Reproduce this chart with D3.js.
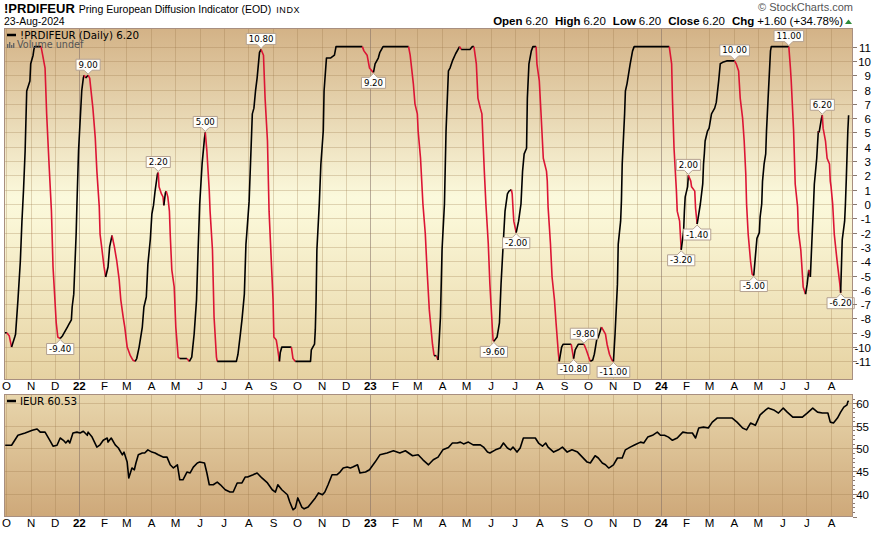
<!DOCTYPE html>
<html><head><meta charset="utf-8">
<script src="https://cdn.jsdelivr.net/npm/d3@7"></script>
<style>body{margin:0;background:#fff;} svg{display:block;}</style>
</head><body><svg id="c" width="887" height="533"></svg>
<script>
// ---------------- DATA ----------------
const indicator = [
["2021-09-29",-9.0],["2021-10-02",-9.0],["2021-10-05",-9.2],["2021-10-08",-10.0],["2021-10-12",-9.3],["2021-10-13",-9.1],["2021-10-16",-6.7],["2021-10-19",-4.0],["2021-10-21",-1.2],["2021-10-23",1.0],["2021-10-25",3.7],["2021-10-27",7.9],["2021-10-31",8.6],["2021-11-01",9.8],["2021-11-04",10.4],["2021-11-05",10.8],["2021-11-06",11],["2021-11-14",11],["2021-11-16",10.4],["2021-11-19",9.5],["2021-11-21",6.3],["2021-11-24",2.8],["2021-11-27",-0.5],["2021-11-29",-4.4],["2021-12-03",-8.3],["2021-12-05",-9.3],["2021-12-08",-9.4],["2021-12-11",-9.2],["2021-12-17",-8.6],["2021-12-19",-8.4],["2021-12-22",-8.1],["2021-12-23",-7.2],["2021-12-25",-6.3],["2021-12-28",-2.1],["2021-12-29",0],["2021-12-31",3.7],
["2022-01-04",7.9],["2022-01-06",8.8],["2022-01-07",9.0],["2022-01-09",8.8],["2022-01-12",9.0],["2022-01-14",8.8],["2022-01-18",6.7],["2022-01-21",4.6],["2022-01-23",2.3],["2022-01-26",-0.2],["2022-01-27",-2.1],["2022-01-29",-3.0],["2022-02-01",-4.4],["2022-02-03",-5.1],["2022-02-06",-4.4],["2022-02-08",-3.0],["2022-02-11",-2.2],["2022-02-14",-3.0],["2022-02-17",-4.0],["2022-02-20",-5.3],["2022-02-22",-6.7],["2022-02-25",-7.9],["2022-02-27",-8.6],["2022-03-02",-10.0],["2022-03-06",-10.6],["2022-03-09",-10.9],["2022-03-12",-11.0],["2022-03-14",-10.8],["2022-03-17",-10.0],["2022-03-21",-8.6],["2022-03-23",-7.2],["2022-03-26",-6.5],["2022-03-28",-4.2],["2022-03-31",-2.5],["2022-04-02",-0.7],["2022-04-04",-0.1],["2022-04-06",0.9],["2022-04-09",2.1],["2022-04-10",2.2],["2022-04-11",1.2],["2022-04-14",0.7],["2022-04-16",0.5],["2022-04-17",-0.1],["2022-04-19",0.8],["2022-04-20",0.9],["2022-04-22",0.5],["2022-04-24",-0.5],["2022-04-25",-2.1],["2022-04-27",-4.6],["2022-04-30",-5.8],["2022-05-02",-8.6],["2022-05-05",-10.7],["2022-05-07",-10.8],["2022-05-16",-10.8],["2022-05-19",-11.0],["2022-05-22",-10.7],["2022-05-25",-9.1],["2022-05-28",-6.7],["2022-05-30",-3.2],["2022-06-01",0],["2022-06-04",2.8],["2022-06-07",4.6],["2022-06-08",5.0],["2022-06-10",3.7],["2022-06-13",0.9],["2022-06-14",-0.5],["2022-06-17",-3.2],["2022-06-19",-7.9],["2022-06-22",-10.7],["2022-06-23",-11],["2022-07-17",-11],["2022-07-19",-10.5],["2022-07-22",-9.1],["2022-07-24",-8.1],["2022-07-27",-6.3],["2022-07-29",-2.8],["2022-07-30",-2.1],["2022-08-02",0.2],["2022-08-06",6.3],["2022-08-08",6.7],["2022-08-10",7.9],["2022-08-12",8.8],["2022-08-15",10.6],["2022-08-17",10.8],["2022-08-20",10.4],["2022-08-22",7.4],["2022-08-25",4.4],["2022-08-27",-0.5],["2022-09-01",-6.7],["2022-09-02",-9.3],["2022-09-05",-9.5],["2022-09-07",-10.2],["2022-09-09",-11],["2022-09-10",-10.4],["2022-09-12",-10],["2022-09-24",-10],["2022-09-26",-10.8],["2022-09-29",-11],["2022-10-18",-11],["2022-10-19",-10.2],["2022-10-23",-9.8],["2022-10-24",-8.8],["2022-10-25",-6.7],["2022-10-26",-3.2],["2022-10-29",0],["2022-10-31",2.8],["2022-11-03",5.1],["2022-11-04",7.9],["2022-11-07",10.2],["2022-11-12",10.2],["2022-11-17",10.4],["2022-11-19",11],["2022-12-22",11],["2022-12-24",10.7],["2022-12-28",10.4],["2022-12-31",9.5],
["2023-01-03",9.3],["2023-01-05",9.2],["2023-01-07",9.8],["2023-01-11",10.2],["2023-01-13",10.6],["2023-01-17",11],["2023-02-18",11],["2023-02-20",10.4],["2023-02-24",8.4],["2023-02-26",7.0],["2023-03-01",6.3],["2023-03-02",5.1],["2023-03-05",3.2],["2023-03-08",0],["2023-03-11",-2.1],["2023-03-13",-4.4],["2023-03-16",-7.4],["2023-03-20",-9.8],["2023-03-22",-10.6],["2023-03-25",-10.6],["2023-03-27",-10.9],["2023-03-30",-7.9],["2023-04-01",-3.2],["2023-04-04",0],["2023-04-06",5.1],["2023-04-09",9.3],["2023-04-11",9.5],["2023-04-14",10.0],["2023-04-18",10.5],["2023-04-23",11],["2023-04-25",10.8],["2023-05-06",10.8],["2023-05-09",11],["2023-05-11",11],["2023-05-14",9.8],["2023-05-16",7.4],["2023-05-19",6.7],["2023-05-21",6.3],["2023-05-24",2.3],["2023-05-26",0],["2023-05-29",-2.8],["2023-05-31",-5.6],["2023-06-03",-8.6],["2023-06-04",-9.5],["2023-06-05",-9.6],["2023-06-09",-9.3],["2023-06-12",-8.3],["2023-06-14",-5.6],["2023-06-17",-2.5],["2023-06-19",-0.5],["2023-06-22",0.7],["2023-06-24",0.9],["2023-06-27",1.0],["2023-06-28",0.7],["2023-06-29",-0.3],["2023-06-30",-1.2],["2023-07-03",-2.0],["2023-07-06",-1.2],["2023-07-09",0],["2023-07-11",2.3],["2023-07-13",3.5],["2023-07-16",3.9],["2023-07-17",7.4],["2023-07-19",9.8],["2023-07-22",10.7],["2023-07-24",11],["2023-07-28",11],["2023-07-29",9.8],["2023-08-01",8.6],["2023-08-03",6.5],["2023-08-06",3.2],["2023-08-10",2.3],["2023-08-11",1.6],["2023-08-12",-0.2],["2023-08-15",-2.8],["2023-08-17",-5.1],["2023-08-20",-6.7],["2023-08-22",-8.3],["2023-08-25",-10.5],["2023-08-26",-11],["2023-08-29",-10],["2023-08-31",-9.8],["2023-09-10",-9.8],["2023-09-13",-10.8],["2023-09-15",-10.2],["2023-09-19",-9.8],["2023-09-26",-9.8],["2023-09-29",-10.2],["2023-10-02",-10.7],["2023-10-04",-11],["2023-10-07",-10.9],["2023-10-09",-10.5],["2023-10-12",-9.5],["2023-10-14",-9.3],["2023-10-18",-8.6],["2023-10-20",-8.8],["2023-10-23",-9.1],["2023-10-25",-9.8],["2023-10-28",-10.5],["2023-10-31",-10.9],["2023-11-02",-11],["2023-11-04",-9.1],["2023-11-07",-5.6],["2023-11-08",-2.8],["2023-11-11",-1.2],["2023-11-12",0.2],["2023-11-13",2.8],["2023-11-16",6.3],["2023-11-17",7.9],["2023-11-19",8.4],["2023-11-21",9.1],["2023-11-23",9.8],["2023-11-26",10.7],["2023-11-28",11],
["2024-01-11",11],["2024-01-14",9.8],["2024-01-15",7.4],["2024-01-17",3.9],["2024-01-20",0.9],["2024-01-21",-0.5],["2024-01-24",-1.2],["2024-01-26",-3.2],["2024-01-29",-1.9],["2024-01-30",-0.5],["2024-01-31",0.5],["2024-02-03",1.2],["2024-02-04",2.0],["2024-02-07",1.6],["2024-02-08",1.2],["2024-02-12",0.9],["2024-02-13",-0.3],["2024-02-15",-1.4],["2024-02-17",-0.7],["2024-02-19",0],["2024-02-22",1.4],["2024-02-23",2.8],["2024-02-24",3.5],["2024-02-25",4.4],["2024-02-28",5.1],["2024-03-01",5.3],["2024-03-04",6.3],["2024-03-08",6.7],["2024-03-10",7.1],["2024-03-13",8.6],["2024-03-15",9.8],["2024-03-18",9.9],["2024-03-23",10],["2024-04-02",10],["2024-04-04",9.8],["2024-04-07",9.3],["2024-04-09",7.4],["2024-04-12",6.0],["2024-04-14",4.4],["2024-04-16",2.1],["2024-04-17",0],["2024-04-19",-2.1],["2024-04-22",-4.0],["2024-04-24",-4.9],["2024-04-26",-5.0],["2024-04-28",-3.7],["2024-04-30",-2.4],["2024-05-03",-2.0],["2024-05-04",-0.9],["2024-05-06",0],["2024-05-07",1.6],["2024-05-09",2.8],["2024-05-11",3.5],["2024-05-12",5.1],["2024-05-14",7.4],["2024-05-17",10.7],["2024-05-18",11],["2024-06-09",11],["2024-06-11",9.5],["2024-06-12",8.6],["2024-06-15",5.1],["2024-06-17",1.4],["2024-06-20",-0.2],["2024-06-21",-1.9],["2024-06-24",-3.2],["2024-06-26",-4.9],["2024-06-27",-5.8],["2024-06-30",-6.3],["2024-07-02",-5.6],["2024-07-04",-4.6],["2024-07-06",-5.1],["2024-07-08",-2.5],["2024-07-10",0],["2024-07-11",1.4],["2024-07-14",3.2],["2024-07-16",5.1],["2024-07-17",5.0],["2024-07-20",6.0],["2024-07-21",6.2],["2024-07-22",5.3],["2024-07-25",4.4],["2024-07-27",3.2],["2024-07-30",2.8],["2024-07-31",1.6],["2024-08-01",1.2],["2024-08-03",0],["2024-08-05",-2.1],["2024-08-08",-3.7],["2024-08-09",-4.2],["2024-08-12",-5.6],["2024-08-13",-6.2],["2024-08-15",-2.5],["2024-08-18",-1.2],["2024-08-19",0],["2024-08-20",1.6],["2024-08-22",5.1],["2024-08-23",6.2]
];

const price = [
["2021-09-30",50.7],["2021-10-08",50.7],["2021-10-12",51.8],["2021-10-16",52.9],["2021-10-25",53.4],["2021-11-03",54.0],["2021-11-09",54.3],["2021-11-13",53.6],["2021-11-19",53.6],["2021-11-25",51.8],["2021-11-29",50.5],["2021-12-04",50.7],["2021-12-08",52.3],["2021-12-12",51.8],["2021-12-15",51.2],["2021-12-18",51.8],["2021-12-20",51.2],["2021-12-24",53.4],["2021-12-29",53.6],
["2022-01-02",53.4],["2022-01-06",53.8],["2022-01-11",52.9],["2022-01-12",53.6],["2022-01-17",52.5],["2022-01-23",50.3],["2022-01-27",50.8],["2022-01-31",51.8],["2022-02-05",52.3],["2022-02-06",51.4],["2022-02-10",52.3],["2022-02-15",50.8],["2022-02-19",50.1],["2022-02-24",48.6],["2022-02-26",49.2],["2022-03-02",47.0],["2022-03-04",43.5],["2022-03-08",45.7],["2022-03-11",45.3],["2022-03-13",46.8],["2022-03-16",48.6],["2022-03-21",49.0],["2022-03-24",49.0],["2022-03-28",49.7],["2022-04-02",49.2],["2022-04-06",49.0],["2022-04-10",48.6],["2022-04-16",48.1],["2022-04-21",48.1],["2022-04-25",46.4],["2022-04-29",45.7],["2022-05-04",46.4],["2022-05-07",43.1],["2022-05-11",43.1],["2022-05-16",44.8],["2022-05-20",44.6],["2022-05-24",45.9],["2022-05-29",46.8],["2022-06-01",47.0],["2022-06-07",46.8],["2022-06-10",44.6],["2022-06-13",42.0],["2022-06-18",42.0],["2022-06-23",42.6],["2022-06-27",42.0],["2022-07-03",40.9],["2022-07-09",40.4],["2022-07-13",40.4],["2022-07-18",42.4],["2022-07-24",42.4],["2022-07-28",43.7],["2022-07-31",43.7],["2022-08-07",44.2],["2022-08-12",44.6],["2022-08-18",43.5],["2022-08-25",42.4],["2022-08-31",40.9],["2022-09-04",40.4],["2022-09-07",42.0],["2022-09-12",40.9],["2022-09-19",39.8],["2022-09-22",38.2],["2022-09-26",36.5],["2022-09-29",36.9],["2022-10-02",39.1],["2022-10-07",37.1],["2022-10-10",36.7],["2022-10-15",37.1],["2022-10-20",38.2],["2022-10-24",39.1],["2022-10-28",40.2],["2022-11-02",39.8],["2022-11-05",40.4],["2022-11-09",42.0],["2022-11-14",44.2],["2022-11-20",44.2],["2022-11-24",44.8],["2022-11-28",45.7],["2022-12-03",45.9],["2022-12-07",45.7],["2022-12-10",45.9],["2022-12-16",46.4],["2022-12-19",44.6],["2022-12-26",44.8],["2022-12-31",45.3],
["2023-01-07",47.0],["2023-01-13",48.6],["2023-01-22",49.0],["2023-01-30",49.5],["2023-02-07",49.0],["2023-02-14",49.5],["2023-02-23",48.4],["2023-03-02",48.6],["2023-03-08",47.5],["2023-03-15",46.4],["2023-03-21",47.5],["2023-03-27",48.1],["2023-04-02",49.7],["2023-04-09",50.2],["2023-04-14",51.2],["2023-04-20",51.2],["2023-04-24",51.4],["2023-04-28",51.0],["2023-05-04",51.4],["2023-05-10",50.8],["2023-05-19",50.8],["2023-05-23",50.3],["2023-05-28",49.2],["2023-05-31",49.0],["2023-06-07",49.7],["2023-06-13",50.1],["2023-06-17",51.2],["2023-06-22",50.1],["2023-06-26",49.7],["2023-06-29",50.3],["2023-07-04",49.2],["2023-07-08",50.1],["2023-07-12",52.3],["2023-07-17",52.3],["2023-07-27",52.3],["2023-07-31",51.2],["2023-08-05",50.5],["2023-08-09",51.2],["2023-08-12",50.3],["2023-08-19",49.2],["2023-08-25",49.7],["2023-08-30",50.3],["2023-09-05",49.2],["2023-09-11",49.7],["2023-09-18",49.2],["2023-09-24",48.1],["2023-09-30",47.0],["2023-10-04",46.8],["2023-10-10",48.4],["2023-10-14",47.9],["2023-10-19",46.8],["2023-10-23",46.4],["2023-10-27",45.7],["2023-10-29",45.9],["2023-11-02",46.4],["2023-11-07",47.9],["2023-11-13",47.9],["2023-11-17",49.7],["2023-11-23",50.3],["2023-11-29",50.8],["2023-12-06",51.4],["2023-12-10",51.2],["2023-12-15",52.5],["2023-12-21",52.9],["2023-12-27",53.6],["2023-12-31",52.9],
["2024-01-05",52.9],["2024-01-10",52.5],["2024-01-15",51.8],["2024-01-21",52.3],["2024-01-28",53.6],["2024-02-03",53.4],["2024-02-09",53.4],["2024-02-13",52.3],["2024-02-17",54.5],["2024-02-23",54.7],["2024-02-29",54.5],["2024-03-05",55.8],["2024-03-11",56.7],["2024-03-18",56.7],["2024-03-24",56.7],["2024-03-30",56.7],["2024-04-05",55.8],["2024-04-12",54.5],["2024-04-17",54.1],["2024-04-22",55.6],["2024-04-28",55.1],["2024-05-04",57.4],["2024-05-11",58.5],["2024-05-14",58.9],["2024-05-21",58.5],["2024-05-27",57.8],["2024-06-02",58.9],["2024-06-07",58.0],["2024-06-14",56.9],["2024-06-20",56.9],["2024-06-26",56.9],["2024-07-02",57.8],["2024-07-09",58.9],["2024-07-15",58.0],["2024-07-21",57.8],["2024-07-28",57.8],["2024-07-31",55.8],["2024-08-04",55.6],["2024-08-09",56.7],["2024-08-13",58.0],["2024-08-17",59.1],["2024-08-21",59.6],["2024-08-22",60.3],["2024-08-23",60.53]
];

// peak/trough annotations: date, value, side
const annotations = [
["2021-12-08",-9.40,"below"],["2022-01-12",9.00,"above"],["2022-04-10",2.20,"above"],["2022-06-08",5.00,"above"],["2022-08-17",10.80,"above"],
["2023-01-05",9.20,"below"],["2023-06-05",-9.60,"below"],["2023-07-03",-2.00,"below"],["2023-09-13",-10.80,"below"],["2023-09-26",-9.80,"above"],["2023-11-02",-11.00,"below"],
["2024-01-26",-3.20,"below"],["2024-02-04",2.00,"above"],["2024-02-15",-1.40,"below"],["2024-04-02",10.00,"above"],["2024-04-26",-5.00,"below"],["2024-06-09",11.00,"above"],["2024-07-21",6.20,"above"],["2024-08-13",-6.20,"below"]
];

const indicatorTicks = [-11,-10,-9,-8,-7,-6,-5,-4,-3,-2,-1,0,1,2,3,4,5,6,7,8,9,10,11];
const priceTicks = [40,45,50,55,60];
const monthLetters = ["J","F","M","A","M","J","J","A","S","O","N","D"];

const title = {symbol:"!PRDIFEUR", name:"Pring European Diffusion Indicator (EOD)", exch:"INDX", date:"23-Aug-2024"};
const quote = [["Open","6.20"],["High","6.20"],["Low","6.20"],["Close","6.20"],["Chg","+1.60 (+34.78%)"]];

// ---------------- CHART ----------------
const parse = d3.timeParse("%Y-%m-%d");
const ind = indicator.map(d=>({date:parse(d[0]), v:d[1]}));
const pr = price.map(d=>({date:parse(d[0]), v:d[1]}));

const svg = d3.select("#c");
const L = 4, R = 853;
const top1 = 28, bot1 = 380, top2 = 394, bot2 = 517;
const x = d3.scaleTime().domain([new Date(2021,8,28,12), new Date(2024,7,28,12)]).range([L,R]);
const y1 = d3.scaleLinear().domain([-12.3,12.3]).range([bot1,top1]);
const y2 = d3.scaleLinear().domain([34.9,62]).range([bot2,top2]);

const defs = svg.append("defs");
const g1 = defs.append("linearGradient").attr("id","g1").attr("x1",0).attr("x2",0).attr("y1",0).attr("y2",1);
[[0,"#d3b286"],[0.48,"#fbf9dc"],[0.55,"#faf6d6"],[1,"#e6d2a2"]].forEach(s=>g1.append("stop").attr("offset",s[0]).attr("stop-color",s[1]));
const g2 = defs.append("linearGradient").attr("id","g2").attr("x1",0).attr("x2",0).attr("y1",0).attr("y2",1);
[[0,"#e8d6ac"],[1,"#cea879"]].forEach(s=>g2.append("stop").attr("offset",s[0]).attr("stop-color",s[1]));
defs.append("clipPath").attr("id","cp1").append("rect").attr("x",L).attr("y",top1).attr("width",R-L).attr("height",bot1-top1);
defs.append("clipPath").attr("id","cp2").append("rect").attr("x",L).attr("y",top2).attr("width",R-L).attr("height",bot2-top2);

svg.append("rect").attr("x",L).attr("y",top1).attr("width",R-L).attr("height",bot1-top1).attr("fill","url(#g1)");
svg.append("rect").attr("x",L).attr("y",top2).attr("width",R-L).attr("height",bot2-top2).attr("fill","url(#g2)");

const months = d3.timeMonth.range(new Date(2021,9,1), new Date(2024,8,1));
const gridC = "rgba(150,115,70,0.28)", yearC = "rgba(130,110,100,0.55)";

// vertical grid
[[top1,bot1],[top2,bot2]].forEach(([a,b])=>{
  svg.append("g").selectAll("line").data(months).join("line")
    .attr("x1",d=>Math.round(x(d))+0.5).attr("x2",d=>Math.round(x(d))+0.5)
    .attr("y1",a).attr("y2",b)
    .attr("stroke",d=>d.getMonth()===0?yearC:gridC).attr("stroke-width",1);
});
// horizontal grid
svg.append("g").selectAll("line").data(indicatorTicks).join("line")
  .attr("x1",L).attr("x2",R).attr("y1",d=>Math.round(y1(d))+0.5).attr("y2",d=>Math.round(y1(d))+0.5)
  .attr("stroke",gridC);
svg.append("g").selectAll("line").data(priceTicks).join("line")
  .attr("x1",L).attr("x2",R).attr("y1",d=>Math.round(y2(d))+0.5).attr("y2",d=>Math.round(y2(d))+0.5)
  .attr("stroke",gridC);

// indicator line: red when falling, black otherwise
const line1 = d3.line().x(d=>x(d.date)).y(d=>y1(d.v));
const runs = [];
for (let i=1;i<ind.length;i++){
  const c = ind[i].v < ind[i-1].v ? "#dc1535" : "#000";
  if (runs.length && runs[runs.length-1].c===c) runs[runs.length-1].pts.push(ind[i]);
  else runs.push({c, pts:[ind[i-1], ind[i]]});
}
const lg = svg.append("g").attr("clip-path","url(#cp1)");
lg.selectAll("path").data(runs).join("path")
  .attr("d",d=>line1(d.pts)).attr("fill","none").attr("stroke",d=>d.c)
  .attr("stroke-width",1.6).attr("stroke-linejoin","round");

// price line
const line2 = d3.line().x(d=>x(d.date)).y(d=>y2(d.v));
svg.append("g").attr("clip-path","url(#cp2)").append("path")
  .attr("d",line2(pr)).attr("fill","none").attr("stroke","#000").attr("stroke-width",1.6).attr("stroke-linejoin","round");

// annotations
const ag = svg.append("g").attr("font-family","DejaVu Sans, sans-serif").attr("font-size","8.6px");
annotations.forEach(([ds,v,side])=>{
  const px = x(parse(ds)), py = y1(v);
  const txt = v.toFixed(2);
  const t = ag.append("text").text(txt).attr("text-anchor","middle").attr("fill","#000");
  const w = t.node().getComputedTextLength()+5, h = 11;
  const l = px - w/2, r = px + w/2;
  let p, ty;
  if (side==="above"){
    const b = py - 5, tp = b - h;
    p = `M${l},${tp}H${r}V${b}H${px+4}L${px},${py-1}L${px-4},${b}H${l}Z`;
    ty = b - 2.5;
  } else {
    const tp = py + 5, b = tp + h;
    p = `M${l},${tp}H${px-4}L${px},${py+1}L${px+4},${tp}H${r}V${b}H${l}Z`;
    ty = b - 2.5;
  }
  ag.insert("path","text").attr("d",p).attr("fill","#fffefa").attr("stroke","#b4a292").attr("stroke-width",1);
  t.attr("x",px).attr("y",ty);
});

// panel borders
const bc = "#a88f80";
svg.append("rect").attr("x",L+0.5).attr("y",top1+0.5).attr("width",R-L-1).attr("height",bot1-top1-1).attr("fill","none").attr("stroke",bc);
svg.append("rect").attr("x",L+0.5).attr("y",top2+0.5).attr("width",R-L-1).attr("height",bot2-top2-1).attr("fill","none").attr("stroke",bc);

// right axes
const ax = svg.append("g").attr("font-family","Liberation Sans, Arial, sans-serif").attr("font-size","11.5px").attr("fill","#000");
indicatorTicks.forEach(t=>{
  const yy = Math.round(y1(t))+0.5;
  ax.append("line").attr("x1",R).attr("x2",R+4).attr("y1",yy).attr("y2",yy).attr("stroke","#8a7a70");
  ax.append("text").attr("x",871).attr("y",yy+4).attr("text-anchor","end").text(t);
});
d3.range(35,62).forEach(t=>{
  const yy = Math.round(y2(t))+0.5;
  ax.append("line").attr("x1",R).attr("x2",R+(t%5===0?4:2)).attr("y1",yy).attr("y2",yy).attr("stroke","#8a7a70");
});
priceTicks.forEach(t=>{
  const yy = Math.round(y2(t))+0.5;
  ax.append("text").attr("x",869).attr("y",yy+4).attr("text-anchor","end").text(t);
});

// x axis labels
const xl = svg.append("g").attr("font-family","Liberation Sans, Arial, sans-serif").attr("font-size","11.5px").attr("fill","#000").attr("text-anchor","middle");
[390,527].forEach(by=>{
  months.forEach(m=>{
    const isY = m.getMonth()===0;
    xl.append("text").attr("x",x(m)+ (isY?0:0.5)).attr("y",by)
      .attr("font-weight",isY?"bold":"normal")
      .text(isY ? d3.timeFormat("%y")(m) : monthLetters[m.getMonth()]);
  });
});

// titles
const tg = svg.append("g").attr("font-family","Liberation Sans, Arial, sans-serif").attr("fill","#000");
const tt = tg.append("text").attr("x",4).attr("y",12.5);
tt.append("tspan").attr("font-weight","bold").attr("font-size","13px").text(title.symbol);
tt.append("tspan").attr("font-size","10.5px").attr("dx",4).text(title.name);
tt.append("tspan").attr("font-size","9px").attr("dx",5).attr("letter-spacing","0.6px").text(title.exch);
tg.append("text").attr("x",4).attr("y",25).attr("font-size","10.5px").text(title.date);
tg.append("text").attr("x",853).attr("y",11).attr("text-anchor","end").attr("font-size","11px").attr("fill","#555").text("\u00A9 StockCharts.com");
const qt = tg.append("text").attr("x",843).attr("y",25).attr("text-anchor","end").attr("font-size","11.5px");
quote.forEach((q,i)=>{
  qt.append("tspan").attr("font-weight","bold").attr("dx",i?7:0).text(q[0]);
  qt.append("tspan").attr("dx",3).text(q[1]);
});
tg.append("path").attr("d","M845,24L848.5,19.5L852,24Z").attr("fill","#2e8b3a");

// legends
const lgd = svg.append("g").attr("font-family","DejaVu Sans, sans-serif").attr("font-size","10.3px");
lgd.append("line").attr("x1",7).attr("x2",16).attr("y1",35).attr("y2",35).attr("stroke","#000").attr("stroke-width",2.5);
lgd.append("text").attr("x",20).attr("y",38.5).attr("fill","#000").text("!PRDIFEUR (Daily) 6.20");
[[7,4],[9,6],[11,3],[13,5]].forEach(([bx,bh])=>lgd.append("rect").attr("x",bx).attr("y",48-bh).attr("width",1.4).attr("height",bh).attr("fill","#666"));
lgd.append("text").attr("x",17).attr("y",48).attr("fill","#555").attr("font-size","9.6px").text("Volume undef");
lgd.append("line").attr("x1",7).attr("x2",16).attr("y1",401).attr("y2",401).attr("stroke","#000").attr("stroke-width",2.5);
lgd.append("text").attr("x",20).attr("y",405).attr("fill","#000").text("IEUR 60.53");
</script></body></html>
